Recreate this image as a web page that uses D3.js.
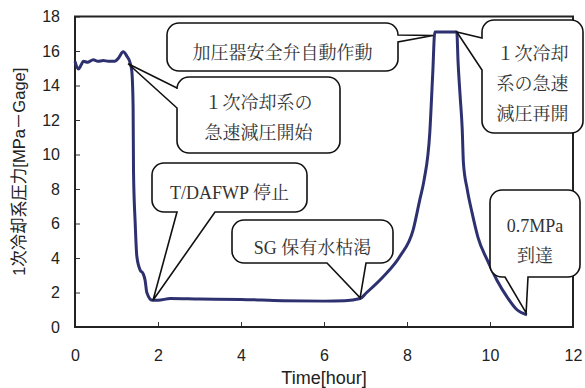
<!DOCTYPE html>
<html>
<head>
<meta charset="utf-8">
<script src="https://cdn.jsdelivr.net/npm/d3@7"></script>
<style>
  body { margin: 0; background: #fff; }
  svg { display: block; }
</style>
</head>
<body>
<script>
// primary pressure over time
var times = [0, 0.08, 0.15, 0.2, 0.3, 0.44, 0.55, 0.68, 0.8, 0.96, 1.05, 1.16, 1.25, 1.33,
  1.37, 1.4, 1.41, 1.45, 1.49, 1.57, 1.64, 1.69, 1.73, 1.86, 2.0, 2.3, 3, 4, 5, 6, 6.5,
  6.87, 7.03, 7.42, 7.83, 8.15, 8.31, 8.41, 8.55, 8.62, 8.67, 9.2, 9.23, 9.28, 9.33,
  9.36, 9.45, 9.57, 9.71, 9.93, 10.17, 10.41, 10.65, 10.89];
var pressure = [15.4, 14.95, 15.2, 15.4, 15.35, 15.5, 15.4, 15.45, 15.4, 15.4, 15.6, 15.95, 15.7, 15.3,
  14.8, 12.8, 9.0, 6.05, 4.1, 3.3, 3.1, 2.7, 2.0, 1.55, 1.55, 1.65, 1.62, 1.6, 1.52, 1.5, 1.52,
  1.65, 2.0, 2.9, 4.1, 5.65, 7.4, 8.5, 11.3, 14.7, 17.1, 17.1, 15.4, 13.4, 11.5,
  9.5, 8.0, 6.6, 5.2, 3.9, 2.7, 1.75, 1.0, 0.7];

var xTicks = [0, 2, 4, 6, 8, 10, 12];
var yTicks = [0, 2, 4, 6, 8, 10, 12, 14, 16, 18];

// callout texts and the points they point at
var noteLines = [
  ["加圧器安全弁自動作動"],
  ["１次冷却系の", "急速減圧開始"],
  ["T/DAFWP 停止"],
  ["SG 保有水枯渇"],
  ["１次冷却", "系の急速", "減圧再開"],
  ["0.7MPa", "到達"]
];
var noteTime = [8.63, 1.28, 1.88, 6.87, 9.2, 10.87];
var notePressure = [16.9, 15.26, 1.55, 1.69, 17.1, 0.82];

var W = 585, H = 388;
var x = d3.scaleLinear().domain([0, 12]).range([75, 573]);
var y = d3.scaleLinear().domain([0, 18]).range([327, 16.5]);

var svg = d3.select("body").append("svg")
    .attr("width", W)
    .attr("height", H);

var sans = "'Liberation Sans', Arial, 'Noto Sans CJK JP', sans-serif";
var serif = "'Liberation Serif', 'Noto Serif CJK JP', 'Noto Sans CJK JP', serif";

// axes, ticks point inward
svg.append("g")
    .attr("transform", "translate(0," + y(0) + ")")
    .call(d3.axisBottom(x).tickValues(xTicks).tickSizeInner(-5).tickSizeOuter(0).tickPadding(23))
    .call(function(g) {
      g.select(".domain").remove();
      g.selectAll("line").attr("stroke", "#333");
      g.selectAll("text").attr("font-family", sans).attr("font-size", 16).attr("fill", "#222");
    });

svg.append("g")
    .attr("transform", "translate(" + x(0) + ",0)")
    .call(d3.axisLeft(y).tickValues(yTicks).tickSizeInner(-5).tickSizeOuter(0).tickPadding(15))
    .call(function(g) {
      g.select(".domain").remove();
      g.selectAll("line").attr("stroke", "#333");
      g.selectAll("text").attr("font-family", sans).attr("font-size", 16).attr("fill", "#222");
    });

svg.append("rect")
    .attr("x", x(0))
    .attr("y", y(18))
    .attr("width", x(12) - x(0))
    .attr("height", y(0) - y(18))
    .attr("fill", "none")
    .attr("stroke", "#222")
    .attr("stroke-width", 2);

svg.append("text")
    .attr("transform", "translate(25," + (y(9) + 0) + ") rotate(-90)")
    .attr("text-anchor", "middle")
    .attr("font-family", sans)
    .attr("font-size", 16.5)
    .attr("fill", "#222")
    .text("1次冷却系圧力[MPa－Gage]");

svg.append("text")
    .attr("x", 324)
    .attr("y", 384)
    .attr("text-anchor", "middle")
    .attr("font-family", sans)
    .attr("font-size", 18)
    .attr("fill", "#222")
    .text("Time[hour]");

var line = d3.line()
    .x(function(d) { return x(d[0]); })
    .y(function(d) { return y(d[1]); })
    .curve(d3.curveMonotoneX);

svg.append("path")
    .datum(d3.zip(times, pressure))
    .attr("d", line)
    .attr("fill", "none")
    .attr("stroke", "#2e3170")
    .attr("stroke-width", 3)
    .attr("stroke-linejoin", "round");

// bubble boxes: [left, top, width, height], wedge side and its two base points
var boxes = [
  {box: [167, 23, 231, 48], side: "right", a: 35, b: 42, cy: 53},
  {box: [177, 77, 163, 76], side: "left", a: 88, b: 108, cy: 103},
  {box: [152, 163, 155, 49], side: "bottom", a: 177, b: 215, cy: 193},
  {box: [232, 220, 161, 43], side: "bottom", a: 327, b: 366, cy: 248},
  {box: [482, 20, 101, 113], side: "left", a: 38, b: 70, cy: 54},
  {box: [490, 190, 90, 87], side: "bottom", a: 505, b: 528, cy: 226}
];

function bubble(d, tx, ty) {
  var bx = d.box[0], by = d.box[1], w = d.box[2], h = d.box[3], r = 12;
  var p = d3.path();
  p.moveTo(bx + r, by);
  p.lineTo(bx + w - r, by);
  p.arcTo(bx + w, by, bx + w, by + r, r);
  if (d.side === "right") {
    p.lineTo(bx + w, d.a);
    p.lineTo(tx, ty);
    p.lineTo(bx + w, d.b);
  }
  p.lineTo(bx + w, by + h - r);
  p.arcTo(bx + w, by + h, bx + w - r, by + h, r);
  if (d.side === "bottom") {
    p.lineTo(d.b, by + h);
    p.lineTo(tx, ty);
    p.lineTo(d.a, by + h);
  }
  p.lineTo(bx + r, by + h);
  p.arcTo(bx, by + h, bx, by + h - r, r);
  if (d.side === "left") {
    p.lineTo(bx, d.b);
    p.lineTo(tx, ty);
    p.lineTo(bx, d.a);
  }
  p.lineTo(bx, by + r);
  p.arcTo(bx, by, bx + r, by, r);
  p.closePath();
  return p.toString();
}

var notes = svg.selectAll("g.note")
    .data(boxes)
  .enter().append("g")
    .attr("class", "note");

notes.append("path")
    .attr("d", function(d, i) { return bubble(d, x(noteTime[i]), y(notePressure[i])); })
    .attr("fill", "#fff")
    .attr("stroke", "#111")
    .attr("stroke-width", 1.6)
    .attr("stroke-linejoin", "miter");

notes.each(function(d, i) {
  var t = d3.select(this).append("text")
      .attr("text-anchor", "middle")
      .attr("font-family", serif)
      .attr("font-size", 18)
      .attr("fill", "#333");
  noteLines[i].forEach(function(s, k) {
    t.append("tspan")
        .attr("x", d.box[0] + d.box[2] / 2)
        .attr("y", d.cy + 6 + k * 30)
        .text(s);
  });
});
</script>
</body>
</html>
